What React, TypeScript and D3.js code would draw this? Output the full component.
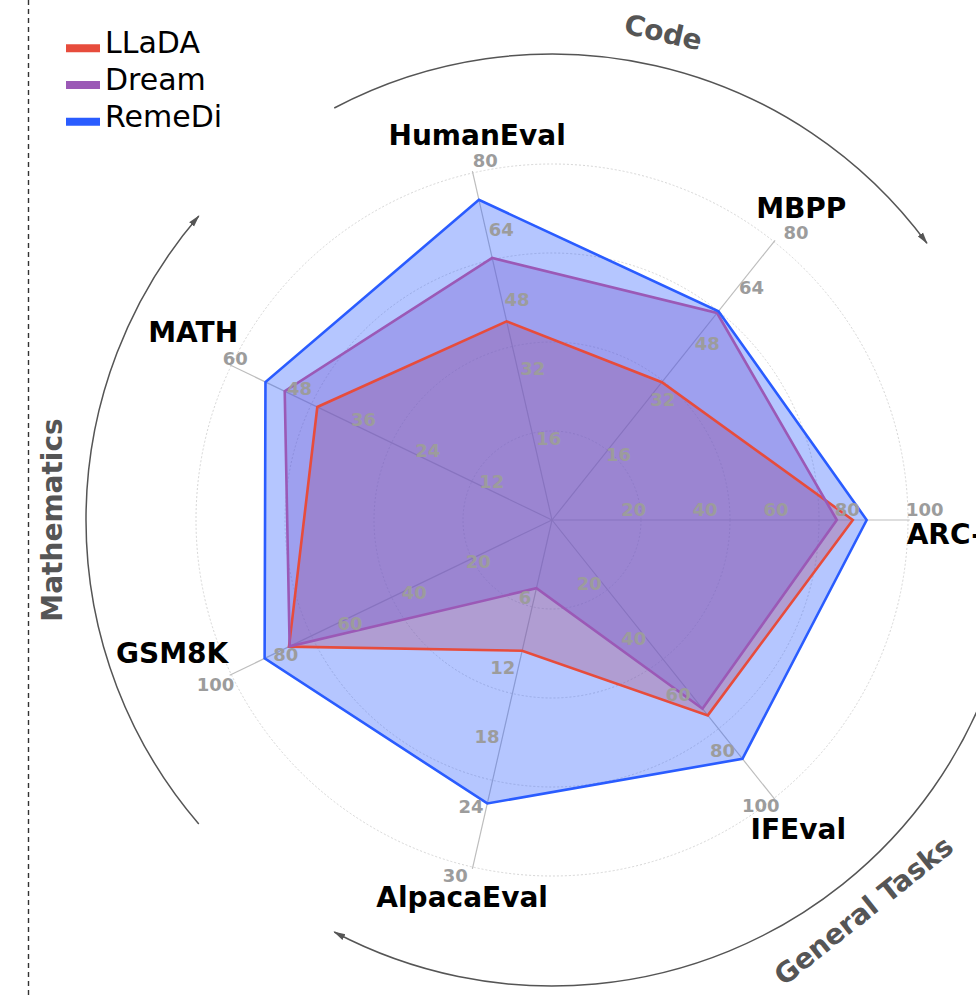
import React from 'react';
import * as d3 from 'd3';

// axes go clockwise starting at 3 o'clock
const categories = ['ARC-C', 'IFEval', 'AlpacaEval', 'GSM8K', 'MATH', 'HumanEval', 'MBPP'];
const axisMax = [100, 100, 30, 100, 60, 80, 80];

const lladaScores = [84.5, 70.2, 11.3, 82.0, 43.9, 45.8, 39.6];
const dreamScores = [80.0, 67.8, 5.9, 81.8, 50.0, 60.4, 59.5];
const remediScores = [88.4, 85.8, 24.5, 89.6, 53.6, 73.8, 60.0];

const seriesNames = ['LLaDA', 'Dream', 'RemeDi'];
const seriesColors = ['#e74c3c', '#9b59b6', '#2a5cff'];

const tickFractions = [0.2, 0.4, 0.6, 0.8, 1.0];
const ringFractions = [0.25, 0.5, 0.75, 1.0];

const groupNames = ['General Tasks', 'Mathematics', 'Code'];
const groupMembers = [[0, 1, 2], [3, 4], [5, 6]];

// layout tweaks for the text around each spoke
const tickStyle = [
  { anchor: 'start', dx: -2, dy: -4 },
  { anchor: 'end', dx: 5.5, dy: 14 },
  { anchor: 'end', dx: -5, dy: 15 },
  { anchor: 'end', dx: 3, dy: 17 },
  { anchor: 'middle', dx: 4, dy: -1 },
  { anchor: 'start', dx: 0, dy: -6 },
  { anchor: 'start', dx: 9.5, dy: -3 },
];
const labelNudge = [
  [8, 14], [0, 0], [-2, -8], [-24, -38], [-3, -17], [13, 0], [3, -3],
];

const width = 976;
const height = 995;
const cx = 552;
const cy = 520;
const R = 356;

const App = () => {
  const n = categories.length;
  const angle = d3.scaleLinear().domain([0, n]).range([0, 2 * Math.PI]);
  const rScales = axisMax.map((m) => d3.scaleLinear().domain([0, m]).range([0, R]));
  const pt = (i: number, r: number) => [r * Math.cos(angle(i)), r * Math.sin(angle(i))];
  const pa = (a: number, r: number) => [r * Math.cos(a), r * Math.sin(a)];

  const series = [lladaScores, dreamScores, remediScores];
  const radar = d3
    .lineRadial<number>()
    .angle((d, i) => angle(i) + Math.PI / 2)
    .radius((d, i) => rScales[i](d))
    .curve(d3.curveLinearClosed);

  const deg = Math.PI / 180;
  const groups = groupMembers.map((m, g) => {
    const a0 = angle(m[0]) - 15 * deg;
    const a1 = angle(m[m.length - 1]) + 15 * deg;
    const p = d3.path();
    p.arc(0, 0, 466, a0, a1);
    const mid = (a0 + a1) / 2;
    let rot = ((mid / deg + 90) % 360 + 360) % 360;
    if (rot > 180) rot -= 360;
    if (rot > 90) rot -= 180;
    if (rot < -90) rot += 180;
    const [lx, ly] = pa(mid, 500);
    return { name: groupNames[g], d: p.toString(), lx, ly, rot };
  });

  return (
    <svg
      width={width}
      height={height}
      style={{ position: 'absolute', left: 0, top: 0, background: '#fff' }}
      fontFamily="DejaVu Sans"
    >
      <defs>
        <marker id="arrow" viewBox="0 -4 12 8" refX="11" refY="0" markerWidth="12" markerHeight="8"
          markerUnits="userSpaceOnUse" orient="auto">
          <path d="M0,-3.2L12,0L0,3.2Z" fill="#555" />
        </marker>
      </defs>

      {/* dashed divider */}
      <line x1={28.5} x2={28.5} y1={0} y2={height} stroke="#333" strokeWidth={1.4} strokeDasharray="5,4" />

      <g transform={`translate(${cx},${cy})`}>
        {/* rings */}
        {ringFractions.map((f) => (
          <circle key={f} r={f * R} fill="none" stroke="#d6d6d6" strokeWidth={1} strokeDasharray="2,2" />
        ))}
        {/* spokes */}
        {categories.map((c, i) => {
          const [x, y] = pt(i, R * 1.005);
          return <line key={c} x1={0} y1={0} x2={x} y2={y} stroke="#bdbdbd" strokeWidth={1.2} />;
        })}

        {/* series fills, then outlines on top */}
        {series.map((s, k) => (
          <path key={'f' + seriesNames[k]} d={radar(s) || ''} fill={seriesColors[k]} fillOpacity={0.35} stroke="none" />
        ))}
        {series.map((s, k) => (
          <path
            key={'l' + seriesNames[k]}
            d={radar(s) || ''}
            fill="none"
            stroke={seriesColors[k]}
            strokeWidth={2.6}
            strokeLinejoin="miter"
          />
        ))}

        {/* tick labels */}
        {categories.map((c, i) =>
          tickFractions.map((f) => {
            const v = f * axisMax[i];
            const [x, y] = pt(i, rScales[i](v));
            const st = tickStyle[i];
            return (
              <text key={c + f} x={x + st.dx} y={y + st.dy} textAnchor={st.anchor}
                fontSize={18} fontWeight="bold" fill="#9c9c9c">
                {d3.format('d')(v)}
              </text>
            );
          })
        )}

        {/* axis labels */}
        {categories.map((c, i) => {
          const [x, y] = pt(i, 395);
          return (
            <text key={c} x={x + labelNudge[i][0]} y={y + 10 + labelNudge[i][1]} textAnchor="middle"
              fontSize={28} fontWeight="bold" fill="#000">
              {c}
            </text>
          );
        })}

        {/* group arcs */}
        {groups.map((g) => (
          <g key={g.name}>
            <path d={g.d} fill="none" stroke="#555" strokeWidth={1.5} markerEnd="url(#arrow)" />
            <text transform={`translate(${g.lx},${g.ly}) rotate(${g.rot})`} textAnchor="middle"
              dominantBaseline="central" fontSize={28} fontWeight="bold" fill="#555">
              {g.name}
            </text>
          </g>
        ))}
      </g>

      {/* legend */}
      <g>
        {seriesNames.map((s, k) => {
          const base = 53.3 + k * 36.7;
          return (
            <g key={s}>
              <line x1={66} x2={100} y1={base - 5} y2={base - 5} stroke={seriesColors[k]} strokeWidth={8} />
              <text x={105} y={base} fontSize={30} fill="#000">{s}</text>
            </g>
          );
        })}
      </g>
    </svg>
  );
};

export default App;
